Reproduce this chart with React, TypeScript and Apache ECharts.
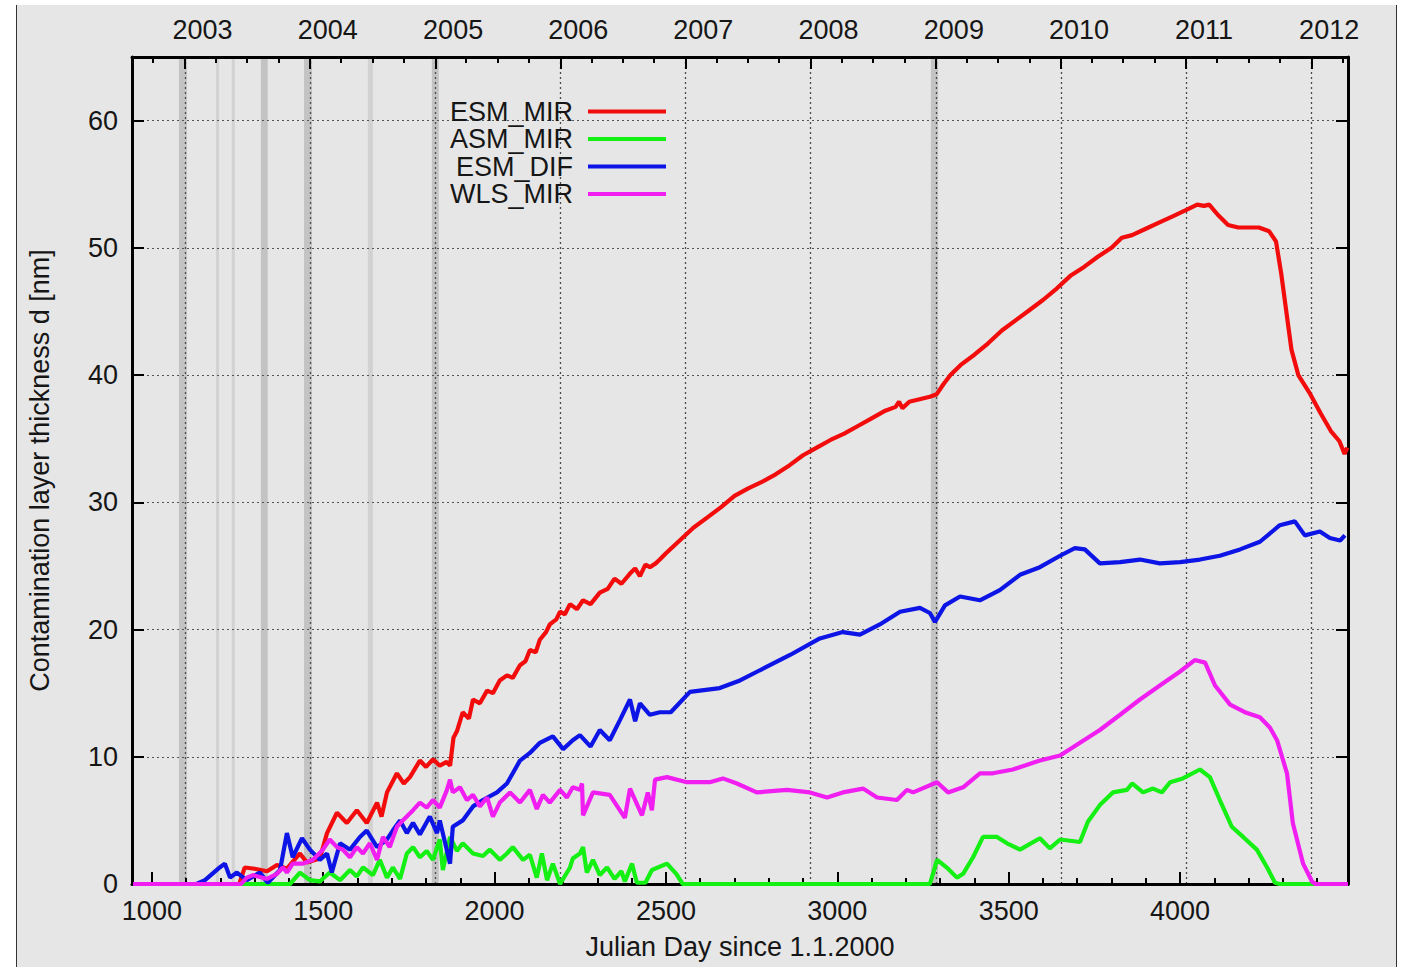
import React, { useEffect, useRef } from "react";
import * as echarts from "echarts";

const FONT = '"Liberation Sans", Arial, Helvetica, sans-serif';

// Julian day since 1.1.2000 -> contamination thickness [nm]
const esmMir: number[][] = [
  [945, 0], [1255, 0], [1271, 1.3], [1300, 1.2], [1336, 1.0], [1365, 1.5], [1394, 1.2], [1432, 2.4], [1452, 1.7],
  [1490, 2.0], [1511, 4.0], [1540, 5.6], [1569, 4.8], [1598, 5.8], [1627, 4.8], [1657, 6.4], [1670, 5.3], [1686, 7.2],
  [1715, 8.7], [1735, 7.9], [1753, 8.4], [1782, 9.7], [1800, 9.2], [1820, 9.8], [1840, 9.3], [1860, 9.6], [1870, 9.3],
  [1880, 11.5], [1890, 12.0], [1907, 13.5], [1925, 13.0], [1937, 14.5], [1957, 14.2], [1978, 15.2], [1995, 15.0],
  [2015, 16.0], [2036, 16.4], [2053, 16.2], [2074, 17.2], [2090, 17.5], [2103, 18.4], [2120, 18.2], [2132, 19.2],
  [2150, 19.8], [2161, 20.4], [2180, 20.8], [2191, 21.4], [2205, 21.2], [2220, 22.0], [2240, 21.6], [2258, 22.3],
  [2280, 22.0], [2307, 22.9], [2330, 23.2], [2350, 24.0], [2370, 23.6], [2395, 24.4], [2410, 24.8], [2424, 24.2],
  [2440, 25.1], [2453, 24.9], [2470, 25.2], [2482, 25.5], [2500, 26.0], [2540, 27.0], [2580, 28.0], [2620, 28.8],
  [2660, 29.6], [2700, 30.5], [2740, 31.1], [2780, 31.6], [2820, 32.2], [2860, 32.9], [2900, 33.7], [2940, 34.3],
  [2980, 34.9], [3020, 35.4], [3060, 36.0], [3100, 36.6], [3140, 37.2], [3170, 37.5], [3180, 37.9], [3190, 37.4],
  [3210, 37.9], [3240, 38.1], [3270, 38.3], [3290, 38.5], [3310, 39.3], [3330, 40.0], [3360, 40.8], [3400, 41.6],
  [3440, 42.5], [3480, 43.5], [3520, 44.3], [3560, 45.1], [3600, 45.9], [3640, 46.8], [3680, 47.8], [3720, 48.5],
  [3760, 49.3], [3800, 50.0], [3830, 50.8], [3860, 51.0], [3900, 51.5], [3940, 52.0], [3980, 52.5], [4020, 53.0],
  [4050, 53.4], [4070, 53.3], [4085, 53.4], [4110, 52.6], [4140, 51.8], [4170, 51.6], [4200, 51.6], [4230, 51.6],
  [4260, 51.3], [4280, 50.5], [4295, 48.0], [4310, 45.0], [4325, 42.0], [4345, 40.0], [4380, 38.5], [4410, 37.0],
  [4440, 35.6], [4465, 34.8], [4480, 33.8], [4488, 34.3],
];

const asmMir: number[][] = [
  [945, 0], [1394, 0], [1403, 0], [1432, 0.9], [1461, 0.3], [1490, 0.2], [1519, 0.9], [1549, 0.3], [1578, 1.1],
  [1598, 0.6], [1616, 1.3], [1645, 0.7], [1665, 1.9], [1686, 0.5], [1703, 1.3], [1724, 0.4], [1744, 2.4], [1762, 2.9],
  [1782, 2.1], [1802, 2.6], [1820, 1.9], [1840, 3.5], [1849, 1.1], [1870, 3.7], [1890, 2.6], [1907, 3.2], [1937, 2.4],
  [1966, 2.2], [1986, 2.7], [2015, 1.9], [2036, 2.4], [2053, 2.9], [2083, 1.9], [2103, 2.3], [2123, 0.5], [2138, 2.4],
  [2153, 0.3], [2170, 1.6], [2191, 0], [2220, 1.3], [2228, 2.0], [2249, 2.4], [2258, 2.9], [2269, 0.9], [2287, 1.9],
  [2307, 0.7], [2328, 1.3], [2350, 0.4], [2370, 1.0], [2380, 0.2], [2401, 1.6], [2415, 0.1], [2440, 0.1], [2459, 1.1],
  [2503, 1.6], [2530, 0.8], [2549, 0], [3270, 0], [3291, 1.9], [3323, 1.2], [3349, 0.5], [3367, 0.8], [3396, 2.1],
  [3425, 3.7], [3466, 3.7], [3495, 3.2], [3533, 2.7], [3591, 3.6], [3620, 2.8], [3650, 3.5], [3708, 3.3], [3731, 4.9],
  [3766, 6.2], [3804, 7.2], [3845, 7.4], [3860, 7.9], [3892, 7.2], [3921, 7.5], [3947, 7.2], [3971, 8.0], [4008, 8.3],
  [4058, 9.0], [4087, 8.4], [4116, 6.6], [4151, 4.5], [4184, 3.7], [4224, 2.7], [4254, 1.3], [4277, 0.1], [4290, 0],
  [4490, 0],
];

const esmDif: number[][] = [
  [945, 0], [1130, 0], [1155, 0.3], [1198, 1.3], [1213, 1.6], [1228, 0.5], [1248, 0.9], [1277, 0.3], [1315, 0.9],
  [1338, 0.1], [1374, 1.1], [1394, 4.0], [1411, 2.1], [1438, 3.6], [1461, 2.7], [1490, 1.9], [1511, 2.4], [1525, 0.9],
  [1549, 3.2], [1578, 2.7], [1607, 3.7], [1627, 4.2], [1657, 2.9], [1686, 3.5], [1703, 4.2], [1724, 5.0], [1744, 4.0],
  [1762, 4.8], [1782, 3.9], [1811, 5.3], [1832, 4.0], [1840, 5.0], [1870, 1.6], [1878, 4.5], [1907, 5.0], [1937, 6.1],
  [1966, 6.6], [2007, 7.2], [2036, 7.9], [2053, 8.7], [2074, 9.7], [2103, 10.3], [2132, 11.1], [2170, 11.6],
  [2200, 10.6], [2228, 11.3], [2249, 11.7], [2280, 10.8], [2307, 12.1], [2336, 11.3], [2366, 12.9], [2395, 14.5],
  [2410, 12.8], [2424, 14.2], [2453, 13.3], [2482, 13.5], [2514, 13.5], [2570, 15.1], [2657, 15.4], [2716, 16.0],
  [2774, 16.8], [2862, 18.0], [2949, 19.3], [3016, 19.8], [3066, 19.6], [3124, 20.4], [3183, 21.4], [3241, 21.7],
  [3270, 21.3], [3285, 20.6], [3314, 21.9], [3358, 22.6], [3416, 22.3], [3474, 23.1], [3533, 24.3], [3591, 24.9],
  [3650, 25.8], [3693, 26.4], [3722, 26.3], [3766, 25.2], [3825, 25.3], [3883, 25.5], [3941, 25.2], [4000, 25.3],
  [4058, 25.5], [4116, 25.8], [4175, 26.3], [4233, 26.9], [4291, 28.2], [4335, 28.5], [4364, 27.4], [4408, 27.7],
  [4437, 27.2], [4467, 27.0], [4481, 27.4],
];

const wlsMir: number[][] = [
  [945, 0], [1260, 0], [1277, 0.5], [1295, 0.7], [1336, 0.4], [1365, 0.8], [1382, 1.3], [1394, 0.9], [1411, 1.6],
  [1441, 1.6], [1470, 1.9], [1499, 2.7], [1519, 3.5], [1540, 2.9], [1557, 2.7], [1578, 2.1], [1598, 2.9], [1616, 2.4],
  [1636, 3.2], [1657, 1.9], [1674, 3.7], [1694, 2.9], [1715, 4.5], [1732, 5.0], [1762, 5.8], [1782, 6.4], [1802, 6.0],
  [1820, 6.6], [1840, 6.0], [1861, 7.4], [1870, 8.2], [1878, 7.2], [1899, 7.6], [1919, 6.6], [1937, 7.0], [1957, 6.1],
  [1978, 6.8], [1995, 5.3], [2015, 6.4], [2045, 7.2], [2074, 6.4], [2103, 7.4], [2123, 5.9], [2141, 7.0], [2161, 6.4],
  [2191, 7.4], [2211, 6.8], [2228, 7.6], [2249, 7.4], [2255, 7.9], [2258, 5.4], [2287, 7.2], [2336, 7.0], [2380, 5.2],
  [2395, 7.5], [2430, 5.4], [2447, 7.2], [2459, 5.8], [2468, 8.2], [2503, 8.4], [2561, 8.0], [2628, 8.0], [2666, 8.3],
  [2707, 7.9], [2765, 7.2], [2853, 7.4], [2920, 7.2], [2970, 6.8], [3016, 7.2], [3075, 7.5], [3116, 6.8], [3174, 6.6],
  [3203, 7.4], [3221, 7.2], [3291, 8.0], [3323, 7.2], [3367, 7.6], [3416, 8.7], [3454, 8.7], [3512, 9.0], [3591, 9.7],
  [3650, 10.1], [3708, 11.1], [3766, 12.1], [3825, 13.3], [3883, 14.5], [3941, 15.6], [4000, 16.7], [4043, 17.6],
  [4073, 17.4], [4102, 15.6], [4146, 14.1], [4189, 13.5], [4233, 13.1], [4262, 12.3], [4283, 11.3], [4312, 8.7],
  [4329, 4.8], [4359, 1.6], [4385, 0.2], [4395, 0], [4490, 0],
];

const seriesNames = ["ESM_MIR", "ASM_MIR", "ESM_DIF", "WLS_MIR"];
const seriesColors = ["#f20c0c", "#14f014", "#0c14e6", "#f01ef0"];

// Bottom axis ticks (Julian day)
const majorX = [1000, 1500, 2000, 2500, 3000, 3500, 4000];
const minorX = [1000, 1100, 1200, 1300, 1400, 1500, 1600, 1700, 1800, 1900, 2000, 2100, 2200, 2300, 2400, 2500, 2600,
  2700, 2800, 2900, 3000, 3100, 3200, 3300, 3400, 3500, 3600, 3700, 3800, 3900, 4000, 4100, 4200, 4300, 4400];
const yTicks = [0, 10, 20, 30, 40, 50, 60];

// Top axis: years
const years = [2003, 2004, 2005, 2006, 2007, 2008, 2009, 2010, 2011, 2012];

// Shaded event intervals (Julian day)
const darkBands: number[][] = [[1079, 1102], [1318, 1338], [1444, 1467], [1817, 1837], [3273, 3294]];
const lightBands: number[][] = [[1187, 1196], [1233, 1242], [1630, 1645]];

const X_MIN = 942;
const X_MAX = 4490;

const dayOf = (y: number, m: number) => Math.round((Date.UTC(y, m, 1) - Date.UTC(2000, 0, 1)) / 864e5);
const yearDays = years.map((y) => dayOf(y, 0));
const quarterDays: number[] = [];
for (let y = 2002; y <= 2012; y++) {
  for (const m of [3, 6, 9]) {
    const d = dayOf(y, m);
    if (d >= X_MIN && d <= X_MAX) quarterDays.push(d);
  }
}
const YEAR_LABEL_SHIFT = 52;
const yearLabelPos = yearDays.map((d) => d + YEAR_LABEL_SHIFT);

export default function App() {
  const ref = useRef<HTMLDivElement>(null);
  useEffect(() => {
    if (!ref.current) return;
    const chart = echarts.init(ref.current, undefined, { renderer: "svg" });
    const textBase = { fontFamily: FONT, fontSize: 27, color: "#161616" };
    const blackLine = { color: "#000", width: 3 };
    const option: any = {
      animation: false,
      backgroundColor: "transparent",
      grid: { left: 132, top: 57, width: 1216, height: 827, containLabel: false },
      legend: {
        data: seriesNames,
        orient: "vertical",
        left: 436,
        top: 93,
        align: "right",
        icon: "rect",
        itemWidth: 78,
        itemHeight: 4,
        itemGap: 0.5,
        selectedMode: false,
        textStyle: { ...textBase, width: 132, align: "right", lineHeight: 25.5, padding: [0, 10, 0, 0] },
      },
      xAxis: [
        {
          type: "value", position: "bottom", min: X_MIN, max: X_MAX, z: 2,
          axisLine: { show: true, onZero: false, lineStyle: blackLine },
          axisTick: { show: true, inside: true, length: 12, customValues: majorX, lineStyle: { color: "#000", width: 2 } },
          axisLabel: { ...textBase, margin: 13, customValues: majorX, formatter: (v: number) => String(v) },
          splitLine: { show: false },
          name: "Julian Day since 1.1.2000",
          nameLocation: "middle",
          nameGap: 49,
          nameTextStyle: textBase,
        },
        {
          type: "value", position: "bottom", min: X_MIN, max: X_MAX, z: 2,
          axisLine: { show: false, onZero: false },
          axisTick: { show: true, inside: true, length: 6, customValues: minorX, lineStyle: { color: "#000", width: 2 } },
          axisLabel: { show: false },
          splitLine: { show: false },
        },
        {
          type: "value", position: "top", min: X_MIN, max: X_MAX, z: 2,
          axisLine: { show: true, onZero: false, lineStyle: blackLine },
          axisTick: { show: true, inside: true, length: 12, customValues: yearDays, lineStyle: { color: "#000", width: 2 } },
          axisLabel: {
            ...textBase, margin: 14, customValues: yearLabelPos,
            formatter: (v: number) => {
              let best = 0;
              yearLabelPos.forEach((p, i) => { if (Math.abs(p - v) < Math.abs(yearLabelPos[best] - v)) best = i; });
              return String(years[best]);
            },
          },
          splitLine: { show: false },
        },
        {
          type: "value", position: "top", min: X_MIN, max: X_MAX, z: 2,
          axisLine: { show: false, onZero: false },
          axisTick: { show: true, inside: true, length: 6, customValues: quarterDays, lineStyle: { color: "#000", width: 2 } },
          axisLabel: { show: false },
          splitLine: { show: false },
        },
      ],
      yAxis: [
        {
          type: "value", position: "left", min: 0, max: 65, interval: 10, z: 2,
          axisLine: { show: true, onZero: false, lineStyle: blackLine },
          axisTick: { show: true, inside: true, length: 12, customValues: yTicks, lineStyle: { color: "#000", width: 2 } },
          axisLabel: { ...textBase, margin: 14, customValues: yTicks },
          splitLine: { show: true, lineStyle: { color: "#555", width: 1, type: [2, 3] } },
          name: "Contamination layer thickness d [nm]",
          nameLocation: "middle",
          nameGap: 79,
          nameRotate: 90,
          nameTextStyle: textBase,
        },
        {
          type: "value", position: "right", min: 0, max: 65, interval: 10, z: 2,
          axisLine: { show: true, onZero: false, lineStyle: blackLine },
          axisTick: { show: true, inside: true, length: 12, customValues: yTicks, lineStyle: { color: "#000", width: 2 } },
          axisLabel: { show: false },
          splitLine: { show: false },
        },
      ],
      series: [
        {
          name: "events",
          type: "line",
          xAxisIndex: 0,
          yAxisIndex: 0,
          data: [],
          silent: true,
          z: 1,
          markArea: {
            silent: true,
            z: 1,
            data: [
              ...darkBands.map((b) => [{ xAxis: b[0], itemStyle: { color: "#c3c3c3" } }, { xAxis: b[1] }]),
              ...lightBands.map((b) => [{ xAxis: b[0], itemStyle: { color: "#d2d2d2" } }, { xAxis: b[1] }]),
            ],
          },
          markLine: {
            silent: true,
            z: 1,
            symbol: ["none", "none"],
            label: { show: false },
            lineStyle: { color: "#4a4a4a", width: 1.3, type: [2, 3] },
            data: yearDays.map((d) => ({ xAxis: d })),
          },
        },
        ...[esmMir, asmMir, esmDif, wlsMir].map((d, i) => ({
          name: seriesNames[i],
          type: "line",
          xAxisIndex: 0,
          yAxisIndex: 0,
          data: d,
          showSymbol: false,
          symbol: "none",
          clip: false,
          z: 3 + i,
          lineStyle: { color: seriesColors[i], width: 4.2 },
          itemStyle: { color: seriesColors[i] },
        })),
      ],
    };
    chart.setOption(option);
    return () => chart.dispose();
  }, []);

  return (
    <div style={{ position: "fixed", left: 0, top: 0, width: 1401, height: 967, background: "#fff", overflow: "hidden" }}>
      <div
        style={{
          position: "absolute", left: 16, top: 5, width: 1379, height: 962,
          background: "#e6e6e6", borderLeft: "1.5px solid #333", borderRight: "1.5px solid #333",
        }}
      />
      <div ref={ref} style={{ position: "absolute", left: 0, top: 0, width: 1401, height: 967 }} />
    </div>
  );
}
